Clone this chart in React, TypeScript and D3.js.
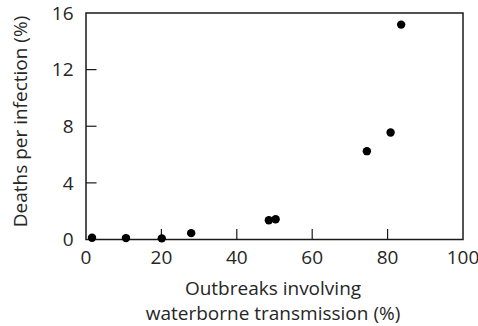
import React from "react";
import * as d3 from "d3";

const xValues = [1.6, 10.6, 20.1, 27.9, 48.5, 50.3, 74.5, 80.8, 83.6];
const yValues = [0.12, 0.1, 0.08, 0.45, 1.36, 1.43, 6.24, 7.56, 15.18];
const xTicks = [0, 20, 40, 60, 80, 100];
const yTicks = [0, 4, 8, 12, 16];
const xTitle = ["Outbreaks involving", "waterborne transmission (%)"];
const yTitle = "Deaths per infection (%)";

const W = 478;
const H = 326;
const L = 86, R = 463, T = 13, B = 239.5;
const FONT = "'Open Sans', 'Noto Sans', sans-serif";
const INK = "#1a1a1a";
const TXT = "#262626";

export default function App() {
  const x = d3.scaleLinear().domain([0, 100]).range([L, R]);
  const y = d3.scaleLinear().domain([0, 16]).range([B, T]);
  const tickLen = 10.5;
  return (
    <svg
      width={W}
      height={H}
      style={{ position: "absolute", left: 0, top: 0, background: "#fff" }}
      fontFamily={FONT}
    >
      <rect x={L} y={T} width={R - L} height={B - T} fill="none" stroke={INK} strokeWidth={1.5} />
      {xTicks.filter((t) => t > 0 && t < 100).map((t) => (
        <line key={"xt" + t} x1={x(t)} x2={x(t)} y1={B} y2={B - tickLen} stroke={INK} strokeWidth={1.2} />
      ))}
      {yTicks.filter((t) => t > 0 && t < 16).map((t) => (
        <line key={"yt" + t} x1={L} x2={L + tickLen} y1={y(t)} y2={y(t)} stroke={INK} strokeWidth={1.2} />
      ))}
      {xTicks.map((t) => (
        <text key={"xl" + t} x={x(t)} y={263.5} textAnchor="middle" fontSize={19} fill={TXT}>
          {t}
        </text>
      ))}
      {yTicks.map((t) => (
        <text key={"yl" + t} x={73.5} y={y(t) + 6.8} textAnchor="end" fontSize={19} fill={TXT}>
          {t}
        </text>
      ))}
      {xTitle.map((s, i) => (
        <text key={"xtt" + i} x={273} y={294.5 + i * 25.5} textAnchor="middle" fontSize={19} fill={TXT}>
          {s}
        </text>
      ))}
      <text
        transform={`translate(26.5, 121.5) rotate(-90)`}
        textAnchor="middle"
        fontSize={19}
        fill={TXT}
      >
        {yTitle}
      </text>
      {xValues.map((v, i) => (
        <circle key={"p" + i} cx={x(v)} cy={y(yValues[i])} r={4.2} fill="#000" />
      ))}
    </svg>
  );
}
